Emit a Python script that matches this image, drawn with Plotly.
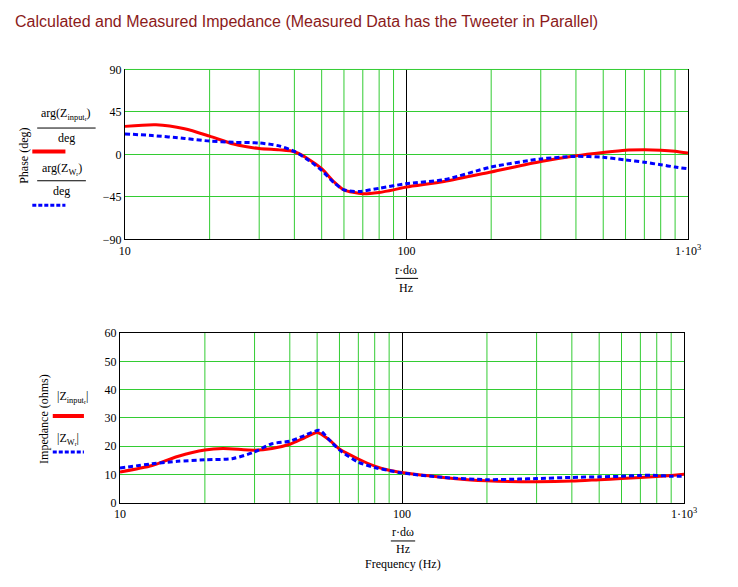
import plotly.graph_objects as go

W, H = 738, 587

# ---------------- data ----------------
phase_calc_freq = [10, 12.9, 16.3, 20, 24.3, 30, 35.3, 40, 44.8, 50, 55.3, 60, 70, 80, 90, 100,
                   136, 200, 300, 400, 500, 600, 700, 800, 900, 1000]
phase_calc = [29.7, 31.4, 27.2, 19.3, 11.0, 6.2, 4.8, 2.8, -4.8, -15.2, -29.0, -37.6, -41.7, -40.3,
              -37.6, -34.5, -28.7, -18.6, -7.6, -1.4, 2.1, 4.5, 4.8, 4.5, 3.4, 1.4]

phase_meas_freq = [10, 12.5, 16.3, 20, 24.3, 30, 35.3, 40, 44.8, 50, 55.3, 60, 68, 80, 100,
                   136, 200, 300, 400, 500, 600, 700, 800, 900, 1000]
phase_meas = [21.7, 20.0, 16.9, 14.1, 12.8, 12.1, 9.0, 3.1, -5.9, -16.9, -30.0, -37.6, -39.3,
              -35.9, -31.0, -26.8, -13.4, -4.8, -2.1, -3.1, -5.9, -8.3, -11.0, -13.4, -15.2]

imp_calc_freq = [10, 13, 16, 20, 23.2, 30, 34.6, 40, 45.1, 50, 55, 60, 70, 80, 90, 100,
                 140, 200, 300, 400, 500, 600, 700, 800, 900, 1000]
imp_calc = [10.9, 13.2, 16.4, 18.7, 19.2, 18.6, 19.2, 20.7, 23.0, 24.9, 22.4, 19.0, 15.5, 13.0,
            11.5, 10.7, 9.0, 7.8, 7.5, 7.7, 8.2, 8.6, 9.0, 9.3, 9.7, 10.1]

imp_meas_freq = [10, 13, 16, 20, 25.2, 30, 34.6, 40, 45.1, 51, 55, 60, 70, 80, 100,
                 140, 200, 259, 300, 400, 500, 600, 700, 800, 900, 1000]
imp_meas = [12.3, 13.8, 14.7, 15.2, 15.7, 18.0, 20.9, 21.8, 23.8, 25.6, 22.4, 18.7, 14.4, 12.5,
            10.6, 9.0, 8.2, 8.4, 8.6, 9.0, 9.2, 9.4, 9.7, 9.7, 9.4, 9.4]

x_major = [10, 100, 1000]
x_major_text = ["10", "100", "1\u00b710<sup>3</sup>"]
x_minor = [20, 30, 40, 50, 60, 70, 80, 90, 200, 300, 400, 500, 600, 700, 800, 900]
phase_ticks = [-90, -45, 0, 45, 90]
phase_tick_text = ["\u221290", "\u221245", "0", "45", "90"]
imp_ticks = [0, 10, 20, 30, 40, 50, 60]

RED = "#ff0000"
BLUE = "#0000ff"
GREEN = "#33cc33"
SERIF = "Liberation Serif"


def px(x):
    return x / W


def py(y):
    return 1 - y / H


fig = go.Figure()
fig.add_trace(go.Scatter(x=phase_calc_freq, y=phase_calc, mode="lines",
                         line=dict(color=RED, width=3, shape="spline", smoothing=0.7),
                         xaxis="x", yaxis="y", showlegend=False))
fig.add_trace(go.Scatter(x=phase_meas_freq, y=phase_meas, mode="lines",
                         line=dict(color=BLUE, width=3, dash="5px,3px", shape="spline", smoothing=0.7),
                         xaxis="x", yaxis="y", showlegend=False))
fig.add_trace(go.Scatter(x=imp_calc_freq, y=imp_calc, mode="lines",
                         line=dict(color=RED, width=3, shape="spline", smoothing=0.7),
                         xaxis="x2", yaxis="y2", showlegend=False))
fig.add_trace(go.Scatter(x=imp_meas_freq, y=imp_meas, mode="lines",
                         line=dict(color=BLUE, width=3, dash="5px,3px", shape="spline", smoothing=0.7),
                         xaxis="x2", yaxis="y2", showlegend=False))

tickfont = dict(family=SERIF, size=12, color="black")

xcommon = dict(type="log", range=[1, 3], tickvals=x_major, ticktext=x_major_text,
               showgrid=True, gridcolor="black", gridwidth=1,
               showline=True, linecolor="black", linewidth=1, ticks="",
               tickfont=tickfont, zeroline=False, fixedrange=True)

fig.update_layout(
    width=W, height=H,
    margin=dict(l=0, r=0, t=0, b=0),
    paper_bgcolor="white", plot_bgcolor="white",
    xaxis=dict(xcommon, domain=[px(122), px(700)], anchor="y", mirror=False),
    yaxis=dict(domain=[py(238), py(64)], anchor="x", range=[-90, 90],
               tickvals=phase_ticks, ticktext=phase_tick_text,
               showgrid=True, gridcolor=GREEN, gridwidth=1, zeroline=False,
               showline=True, linecolor="black", linewidth=1, mirror=True, ticks="",
               tickfont=tickfont),
    xaxis2=dict(xcommon, domain=[px(117), px(696)], anchor="y2", mirror=True),
    yaxis2=dict(domain=[py(508), py(334)], anchor="x2", range=[0, 60],
                tickvals=imp_ticks,
                showgrid=True, gridcolor=GREEN, gridwidth=1, zeroline=False,
                showline=True, linecolor="black", linewidth=1, mirror=True, ticks="",
                tickfont=tickfont),
)

shapes = []
# green minor vertical grid lines (drawn below traces)
for xr, yr in [("x", "y domain"), ("x2", "y2 domain")]:
    for f in x_minor:
        shapes.append(dict(type="line", xref=xr, yref=yr, x0=f, x1=f, y0=0, y1=1,
                           layer="below", line=dict(color=GREEN, width=1)))
# green top border of the phase plot
shapes.append(dict(type="line", xref="x domain", yref="y domain", x0=0, x1=1, y0=1, y1=1,
                   line=dict(color=GREEN, width=1)))
# fraction bars
for (x0, x1, y) in [(32, 92, 124), (32, 82, 178), (400, 423, 278), (395, 420, 547)]:
    shapes.append(dict(type="line", xref="paper", yref="paper", x0=px(x0), x1=px(x1),
                       y0=py(y), y1=py(y), line=dict(color="black", width=1)))
# legend line samples
shapes.append(dict(type="line", xref="paper", yref="paper", x0=px(27), x1=px(61), y0=py(148), y1=py(148),
                   line=dict(color=RED, width=4)))
shapes.append(dict(type="line", xref="paper", yref="paper", x0=px(27), x1=px(61), y0=py(203), y1=py(203),
                   line=dict(color=BLUE, width=3, dash="4px,2px")))
shapes.append(dict(type="line", xref="paper", yref="paper", x0=px(48), x1=px(80), y0=py(419), y1=py(419),
                   line=dict(color=RED, width=4)))
shapes.append(dict(type="line", xref="paper", yref="paper", x0=px(48), x1=px(80), y0=py(456), y1=py(456),
                   line=dict(color=BLUE, width=3, dash="4px,2px")))
fig.update_layout(shapes=shapes)

ann = []


def txt(x, y, s, size=12, family=SERIF, color="black", angle=0, xanchor="center"):
    ann.append(dict(xref="paper", yref="paper", x=px(x), y=py(y), text=s, showarrow=False,
                    font=dict(family=family, size=size, color=color), textangle=angle,
                    xanchor=xanchor, yanchor="middle", borderpad=0))


txt(8, 15, "Calculated and Measured Impedance (Measured Data has the Tweeter in Parallel)",
    size=16, family="Liberation Sans", color="#8b1a1a", xanchor="left")

txt(19, 153, "Phase (deg)", angle=-90)
txt(62, 110, "arg(Z<sub>input<sub>r</sub></sub>)")
txt(62, 134, "deg")
txt(57, 166, "arg(Z<sub>W<sub>r</sub></sub>)")
txt(57, 189, "deg")

txt(39, 422, "Impedance (ohms)", angle=-90)
txt(68, 400, "|Z<sub>input<sub>r</sub></sub>|")
txt(64, 443, "|Z<sub>W<sub>r</sub></sub>|")

txt(411, 269, "r\u00b7d\u03c9")
txt(411, 288, "Hz")
txt(407, 538, "r\u00b7d\u03c9")
txt(407, 555, "Hz")
txt(408, 571, "Frequency (Hz)")

fig.update_layout(annotations=ann)

fig.write_html("out.html")
